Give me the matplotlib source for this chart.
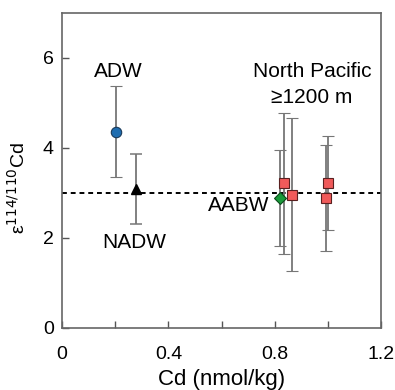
import matplotlib
matplotlib.use('Agg')
import matplotlib.pyplot as plt

plt.rcParams['font.family'] = ['Liberation Sans', 'DejaVu Sans']

# Dados (Cd em nmol/kg, epsilon 114/110 Cd)
adw_x, adw_y, adw_err = [0.203], [4.36], [1.01]
nadw_x, nadw_y, nadw_err = [0.28], [3.09], [0.78]
aabw_x, aabw_y, aabw_err = [0.82], [2.89], [1.07]
np_x = [0.836, 0.866, 0.999, 0.992]
np_y = [3.21, 2.96, 3.22, 2.88]
np_err = [1.57, 1.70, 1.04, 1.18]
ref_line = 3.0

fig = plt.figure(figsize=(3.95, 3.90), dpi=100)
ax = fig.add_axes([0.157, 0.159, 0.808, 0.808])

eb = dict(ecolor='#767676', elinewidth=1.3, capsize=4, capthick=1.1, linestyle='none', zorder=2)

# Linha tracejada de referência
ax.axhline(ref_line, color='black', linestyle=(0, (2.5, 2)), linewidth=1.4, zorder=1)

ax.errorbar(adw_x, adw_y, yerr=adw_err, marker='o', markersize=7.5,
            markerfacecolor='#1f6db0', markeredgecolor='#1a3a5a', markeredgewidth=0.8, **eb)
ax.errorbar(nadw_x, nadw_y, yerr=nadw_err, marker='^', markersize=7.5,
            markerfacecolor='black', markeredgecolor='black', **eb)
ax.errorbar(np_x, np_y, yerr=np_err, marker='s', markersize=7.5,
            markerfacecolor='#f05a5a', markeredgecolor='#5a2020', markeredgewidth=0.8, **eb)
ax.errorbar(aabw_x, aabw_y, yerr=aabw_err, marker='D', markersize=6,
            markerfacecolor='#1a9a3a', markeredgecolor='#0a4a1a', markeredgewidth=0.8, **eb)

# Rótulos das massas de água
fs = 15
ax.text(0.21, 5.69, 'ADW', ha='center', va='center', fontsize=fs)
ax.text(0.27, 1.91, 'NADW', ha='center', va='center', fontsize=fs)
ax.text(0.663, 2.73, 'AABW', ha='center', va='center', fontsize=fs)
ax.text(0.94, 5.69, 'North Pacific', ha='center', va='center', fontsize=fs)
ax.text(0.94, 5.11, '≥1200 m', ha='center', va='center', fontsize=fs)

ax.set_xlim(0, 1.2)
ax.set_ylim(0, 7)
ax.set_xticks([0, 0.2, 0.4, 0.6, 0.8, 1.0, 1.2])
ax.set_xticklabels(['0', '', '0.4', '', '0.8', '', '1.2'])
ax.set_yticks([0, 2, 4, 6])
ax.tick_params(direction='in', length=5, width=1, color='#555555', labelsize=14, pad=6)
ax.tick_params(axis='x', pad=13)

for s in ax.spines.values():
    s.set_color('#666666')
    s.set_linewidth(1.2)

ax.set_xlabel('Cd (nmol/kg)', fontsize=16, labelpad=4)
ax.set_ylabel('ε$^{114/110}$Cd', fontsize=14)
ax.yaxis.set_label_coords(-0.105, 0.445)

fig.savefig('out.png', dpi=100)
